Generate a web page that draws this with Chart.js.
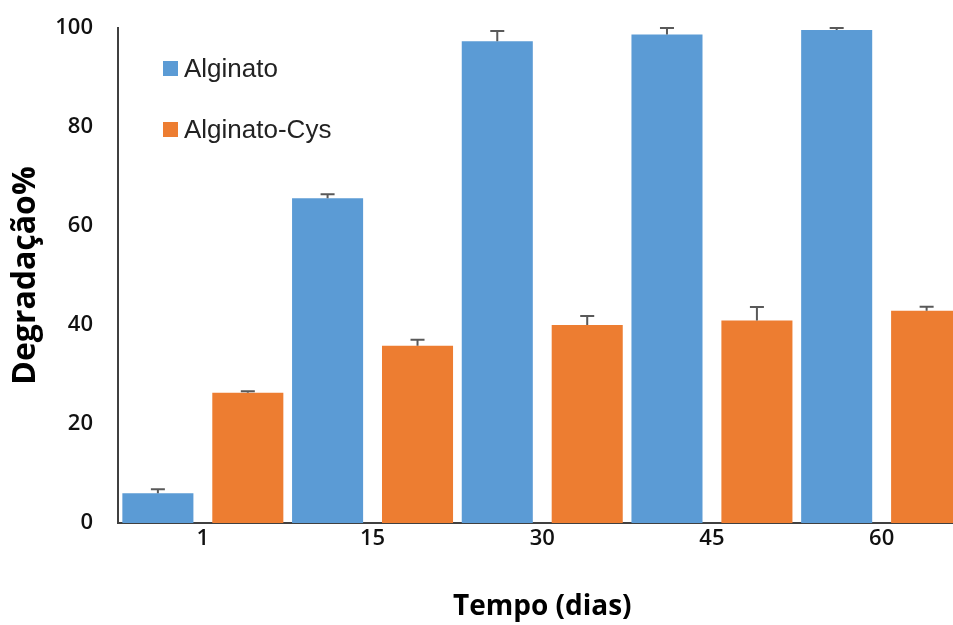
<!DOCTYPE html>
<html>
<head>
<meta charset="utf-8">
<script src="https://cdn.jsdelivr.net/npm/chart.js@4.4.0/dist/chart.umd.min.js"></script>
<style>
  html, body { margin: 0; padding: 0; background: #fff; overflow: hidden; width: 953px; height: 625px; }
  #wrap { width: 953px; height: 625px; overflow: hidden; position: relative; }
  canvas { display: block; }
</style>
</head>
<body>
<div id="wrap"><canvas id="c" width="970" height="625"></canvas></div>
<script>
// Degradation (%) of the two hydrogels over time
const days = ['1', '15', '30', '45', '60'];
const alginato = [6.0, 65.6, 97.3, 98.7, 99.6];
const alginatoErr = [0.8, 0.8, 2.1, 1.3, 0.4];
const alginatoCys = [26.3, 35.8, 40.0, 40.9, 42.9];
const alginatoCysErr = [0.3, 1.2, 1.8, 2.75, 0.8];
const yTicks = [0, 20, 40, 60, 80, 100];
const seriesNames = ['Alginato', 'Alginato-Cys'];
const seriesColors = ['#5B9BD5', '#ED7D31'];

// upper error bars, positioned through the y scale
const errorBars = {
  id: 'errorBars',
  afterDatasetsDraw(chart) {
    const { ctx } = chart;
    const y = chart.scales.y;
    ctx.save();
    ctx.strokeStyle = '#595959';
    ctx.lineWidth = 2;
    chart.data.datasets.forEach((ds, i) => {
      const meta = chart.getDatasetMeta(i);
      meta.data.forEach((bar, j) => {
        const base = y.getPixelForValue(ds.data[j]);
        const top = y.getPixelForValue(ds.data[j] + ds.errors[j]);
        ctx.beginPath();
        ctx.moveTo(bar.x, base);
        ctx.lineTo(bar.x, top);
        ctx.moveTo(bar.x - 7, top);
        ctx.lineTo(bar.x + 7, top);
        ctx.stroke();
      });
    });
    ctx.restore();
  }
};

// legend drawn inside the plot area, top-left
const innerLegend = {
  id: 'innerLegend',
  afterDraw(chart) {
    const { ctx } = chart;
    const x0 = 163, rows = [61, 122];
    ctx.save();
    ctx.font = '26px "Liberation Sans", Arial, sans-serif';
    ctx.textBaseline = 'alphabetic';
    chart.data.datasets.forEach((ds, i) => {
      ctx.fillStyle = ds.backgroundColor;
      ctx.fillRect(x0, rows[i], 15, 15);
      ctx.fillStyle = '#222';
      ctx.fillText(ds.label, x0 + 21, rows[i] + 16);
    });
    ctx.restore();
  }
};

new Chart(document.getElementById('c'), {
  type: 'bar',
  data: {
    labels: days,
    datasets: [
      { label: seriesNames[0], data: alginato, errors: alginatoErr, backgroundColor: seriesColors[0] },
      { label: seriesNames[1], data: alginatoCys, errors: alginatoCysErr, backgroundColor: seriesColors[1] }
    ]
  },
  options: {
    responsive: false,
    animation: false,
    devicePixelRatio: 1,
    categoryPercentage: 1.06,
    barPercentage: 0.79,
    layout: { autoPadding: false, padding: { top: 28, right: 3.5, left: 0, bottom: 0 } },
    plugins: { legend: { display: false }, tooltip: { enabled: false } },
    scales: {
      x: {
        grid: { display: false, drawTicks: false },
        border: { display: true, color: '#404040', width: 2 },
        ticks: { color: '#111', padding: 3, font: { family: '"Open Sans", sans-serif', size: 22, weight: '600' } },
        title: {
          display: true, text: 'Tempo (dias)', color: '#000',
          font: { family: '"Open Sans", sans-serif', size: 28, weight: 'bold' },
          padding: { top: 0, bottom: 1 }
        },
        afterFit(s) { s.height = 102; s.paddingLeft = 0; s.paddingRight = 0; }
      },
      y: {
        min: 0, max: 100,
        grid: { display: false, drawTicks: false },
        border: { display: true, color: '#404040', width: 2 },
        afterBuildTicks(s) { s.ticks = yTicks.map(v => ({ value: v })); },
        ticks: { color: '#111', padding: 25, font: { family: '"Open Sans", sans-serif', size: 22, weight: '600' } },
        title: {
          display: true, text: 'Degradação%', color: '#000',
          font: { family: '"Open Sans", sans-serif', size: 32, weight: 'bold' },
          padding: { top: 7, bottom: 0 }
        },
        afterFit(s) { s.width = 118; s.paddingTop = 0; s.paddingBottom = 0; }
      }
    }
  },
  plugins: [errorBars, innerLegend]
});
</script>
</body>
</html>
